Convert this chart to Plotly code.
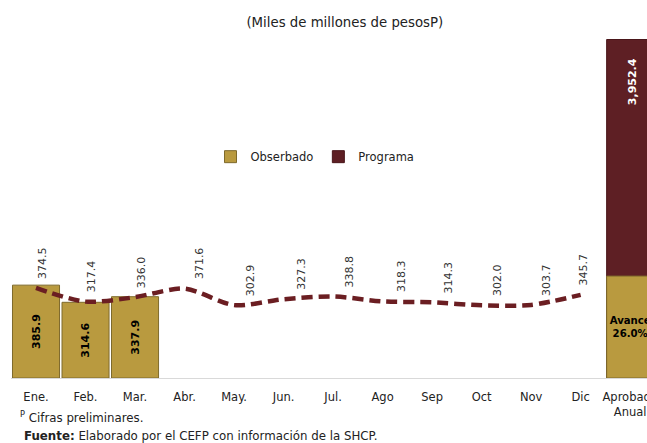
import plotly.graph_objects as go

# ---- data ----
categories = ["Ene.", "Feb.", "Mar.", "Abr.", "May.", "Jun.", "Jul.", "Ago", "Sep", "Oct", "Nov", "Dic", "Aprobado<br>Anual"]
months = categories[:12]
observado = [385.9, 314.6, 337.9]
programa = [374.5, 317.4, 336.0, 371.6, 302.9, 327.3, 338.8, 318.3, 314.3, 302.0, 303.7, 345.7]
aprobado_anual = 3952.4
avance_segment = 1190  # visual height of the "Avance" segment on the annual scale
avance_pct = 26.0

# ---- styles ----
GOLD = "#B99A3F"
GOLD_EDGE = "#7E6A2C"
WINE = "#5E1F24"
LINE = "#6B1E22"
FONT = "DejaVu Sans"
label_dx = [7, 6, 6, 15, 16, 18, 16, 19, 16, 16, 16, 3]

fig = go.Figure()

fig.add_trace(go.Bar(
    x=months[:len(observado)], y=observado, name="Obserbado",
    marker=dict(color=GOLD, line=dict(color=GOLD_EDGE, width=1)),
    text=[f"{v:.1f}" for v in observado], textposition="inside",
    textangle=-90, insidetextanchor="middle",
    textfont=dict(family=FONT, size=11, color="black", weight="bold"),
    yaxis="y", showlegend=True,
))

fig.add_trace(go.Scatter(
    x=months, y=programa, mode="lines", name="Programa",
    line=dict(color=LINE, width=4.5, dash="11px,6px", shape="spline", smoothing=0.8),
    yaxis="y", showlegend=False,
))

fig.add_trace(go.Bar(
    x=[categories[12]], y=[aprobado_anual], name="Programa",
    marker=dict(color=WINE, line=dict(color="#4a161a", width=1)),
    yaxis="y2", showlegend=True,
))

fig.add_trace(go.Bar(
    x=[categories[12]], y=[avance_segment], name="Avance",
    marker=dict(color=GOLD, line=dict(color=GOLD_EDGE, width=1)),
    text=[f"<b>Avance<br>{avance_pct:.1f}%</b>"], textposition="inside",
    textangle=0, insidetextanchor="middle",
    textfont=dict(family=FONT, size=11, color="black"),
    yaxis="y2", showlegend=False,
))

annotations = []
for i, (m, v) in enumerate(zip(months, programa)):
    annotations.append(dict(
        x=m, y=v, xref="x", yref="y", text=f"{v:.1f}", showarrow=False,
        textangle=-90, xanchor="center", yanchor="bottom",
        xshift=label_dx[i], yshift=7,
        font=dict(family=FONT, size=11, color="#333333"),
    ))

annotations.append(dict(
    x=categories[12], y=aprobado_anual, xref="x", yref="y2",
    text=f"<b>{aprobado_anual:,.1f}</b>", showarrow=False, textangle=-90,
    xanchor="center", yanchor="top", xshift=2, yshift=-17,
    font=dict(family=FONT, size=11, color="white"),
))

annotations.append(dict(
    x=0.011, y=-0.115, xref="paper", yref="paper", xanchor="left", yanchor="middle",
    text="<sup>P</sup> Cifras preliminares.", showarrow=False,
    font=dict(family=FONT, size=11.8, color="#222222"),
))
annotations.append(dict(
    x=0.0175, y=-0.171, xref="paper", yref="paper", xanchor="left", yanchor="middle",
    text="<b>Fuente:</b> Elaborado por el CEFP con información de la SHCP.", showarrow=False,
    font=dict(family=FONT, size=11.8, color="#222222"),
))

fig.update_layout(
    width=647, height=443,
    margin=dict(l=11, r=0, t=38, b=65, autoexpand=False),
    paper_bgcolor="white", plot_bgcolor="white",
    barmode="overlay", bargap=0.05,
    title=dict(text="(Miles de millones de pesosP)", x=0.533, xanchor="center",
               y=0.95, yanchor="middle",
               font=dict(family=FONT, size=13.3, color="#222222")),
    font=dict(family=FONT, size=12, color="#222222"),
    xaxis=dict(type="category", categoryorder="array", categoryarray=categories,
               range=[-0.505, 12.34], showline=True, linecolor="#d9d9d9", linewidth=1,
               ticks="", showgrid=False, tickfont=dict(family=FONT, size=11.5, color="#222222"),
               ticklabelstandoff=8, automargin=False),
    yaxis=dict(range=[0, 1413], visible=False),
    yaxis2=dict(range=[0, 3970], overlaying="y", visible=False),
    legend=dict(orientation="h", x=0.478, y=0.651, xanchor="center", yanchor="middle",
                font=dict(family=FONT, size=11.5, color="#222222"), bgcolor="rgba(0,0,0,0)"),
    annotations=annotations,
)

fig.write_html("out.html", config={"displayModeBar": False},
               post_script="document.body.style.margin='0';document.body.style.overflow='hidden';")
